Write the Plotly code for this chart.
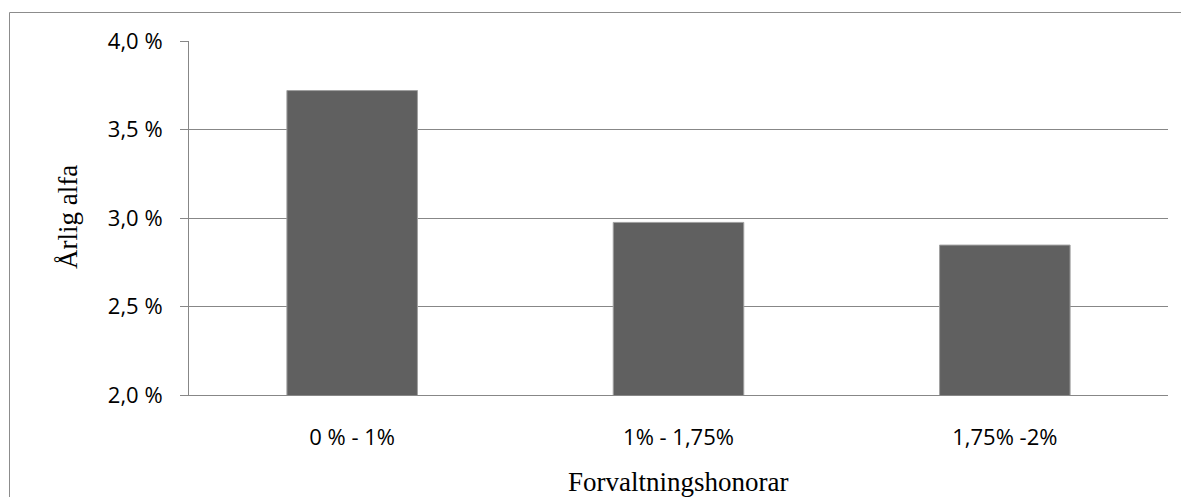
import plotly.graph_objects as go

categories = ["0 % - 1%", "1% - 1,75%", "1,75% -2%"]
alpha_values = [3.72, 2.975, 2.847]
y_tickvals = [2.0, 2.5, 3.0, 3.5, 4.0]
y_ticktext = ["2,0 %", "2,5 %", "3,0 %", "3,5 %", "4,0 %"]
y_title = "Årlig alfa"
x_title = "Forvaltningshonorar"

W, H = 1181, 497
L, R, T, B = 189, 13, 41, 102
pw, ph = W - L - R, H - T - B

def px_x(x):
    return (x - L) / pw

def px_y(y):
    return (H - B - y) / ph

fig = go.Figure(go.Bar(
    x=categories, y=alpha_values,
    marker=dict(color="#606060", line=dict(color="#a0a0a0", width=1)),
    width=0.4,
))

grid = "#878787"
fig.update_layout(
    width=W, height=H,
    margin=dict(l=L, r=R, t=T, b=B),
    paper_bgcolor="white", plot_bgcolor="white",
    showlegend=False,
    xaxis=dict(
        showgrid=False, showline=True, linecolor=grid, linewidth=1,
        ticks="", tickfont=dict(family="Open Sans", size=22, color="#000"),
        ticklabelstandoff=23,
    ),
    yaxis=dict(
        range=[2.0, 4.0], tickvals=y_tickvals, ticktext=y_ticktext,
        showgrid=True, gridcolor=grid, gridwidth=1,
        showline=True, linecolor=grid, linewidth=1,
        ticks="outside", ticklen=8, tickcolor=grid,
        tickfont=dict(family="Open Sans", size=22, color="#000"),
        ticklabelstandoff=13, zeroline=False,
    ),
    shapes=[
        dict(type="line", xref="paper", yref="paper",
             x0=px_x(9.5), x1=px_x(1185), y0=px_y(12.5), y1=px_y(12.5),
             line=dict(color="#8c8c8c", width=1)),
        dict(type="line", xref="paper", yref="paper",
             x0=px_x(9.5), x1=px_x(9.5), y0=px_y(12.5), y1=px_y(505),
             line=dict(color="#8c8c8c", width=1)),
    ],
    annotations=[
        dict(text=y_title, xref="paper", yref="paper",
             x=px_x(68), y=px_y(217), textangle=-90, showarrow=False,
             xanchor="center", yanchor="middle",
             font=dict(family="Liberation Serif", size=27, color="#000")),
        dict(text=x_title, xref="paper", yref="paper",
             x=px_x(678), y=px_y(482), showarrow=False,
             xanchor="center", yanchor="middle",
             font=dict(family="Liberation Serif", size=27, color="#000")),
    ],
)

fig.write_html(
    "out.html",
    config={"displayModeBar": False},
    post_script="document.body.style.margin='0';document.body.style.overflow='hidden';",
)
